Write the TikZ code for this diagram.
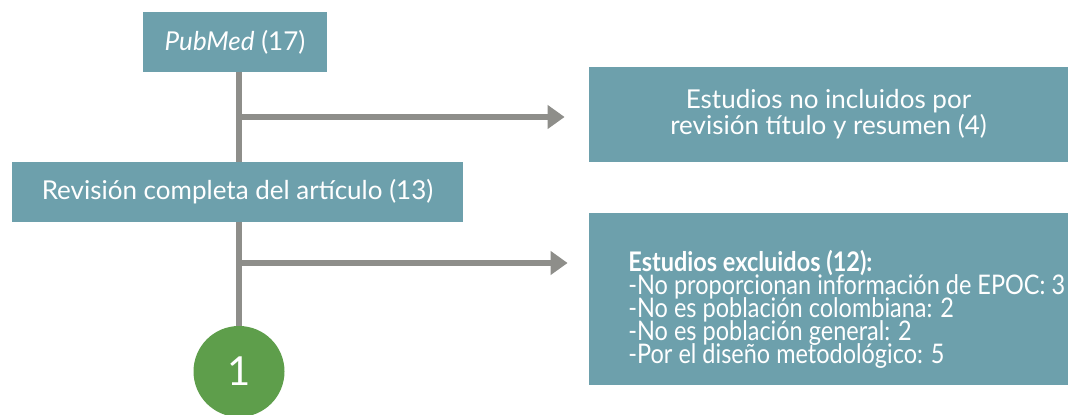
\documentclass[tikz,border=0pt]{standalone}
\usepackage{fontspec}
\setmainfont{Lato}
\newfontfamily\estrecha[FakeStretch=0.87]{Lato}
\newcommand\apretado{\lineskiplimit=-20pt\relax}
\usetikzlibrary{arrows.meta}

\definecolor{cajaazul}{HTML}{6DA0AC}
\definecolor{verdecirc}{HTML}{5E9E4B}
\definecolor{lineagris}{HTML}{8E8E8A}

\tikzset{
  caja/.style={fill=cajaazul, text=white, inner sep=0pt, font=\fontsize{13}{13}\selectfont},
  flecha/.style={draw=lineagris, line width=2.6pt, -{Triangle[length=8.5pt,width=11.5pt]}},
  tronco/.style={draw=lineagris, line width=2.6pt}
}

\begin{document}
\begin{tikzpicture}[x=0.5pt,y=-0.5pt]

				\useasboundingbox (0,0) rectangle (1080,415);

				% cajas
				\node[caja, minimum width=92pt, minimum height=30pt] (pubmed) at (235,42) {\textit{PubMed} (17)};
				\node[caja, minimum width=239.5pt, minimum height=47.5pt, align=center] (noinc) at (828.5,114.5)
					{\fontsize{13}{12}\selectfont Estudios no incluidos por\\revisión título y resumen (4)};
				\node[caja, minimum width=225.5pt, minimum height=30pt] (revision) at (237.5,192) {Revisión completa del artículo (13)};
				\node[caja, minimum width=239.5pt, minimum height=86pt] (excl) at (828.5,299) {};
				\node[text=white, anchor=base west, inner sep=0pt, align=left,
					font=\estrecha\fontsize{13.5}{11.6}\selectfont\apretado] (excltxt) at (628,364)
					{\textbf{Estudios excluidos (12):}\\
					 -No proporcionan información de EPOC: 3\\
					 -No es población colombiana: 2\\
					 -No es población general: 2\\
					 -Por el diseño metodológico: 5};

				% circulo
				\node[circle, fill=verdecirc, text=white, minimum size=45.5pt, inner sep=0pt, font=\fontsize{20}{20}\selectfont] (uno) at (239,371.5) {1};

				% lineas
				\coordinate (rama1) at (239,117);
				\coordinate (rama2) at (239,263);
				\draw[tronco] (pubmed.south -| uno) -- (revision.north -| uno);
				\draw[tronco] (revision.south -| uno) -- (uno.north);
				\draw[flecha] (rama1) -- ([xshift=-12pt]rama1 -| noinc.west);
				\draw[flecha] (rama2) -- ([xshift=-10.5pt]rama2 -| excl.west);
			\end{tikzpicture}
\end{document}
